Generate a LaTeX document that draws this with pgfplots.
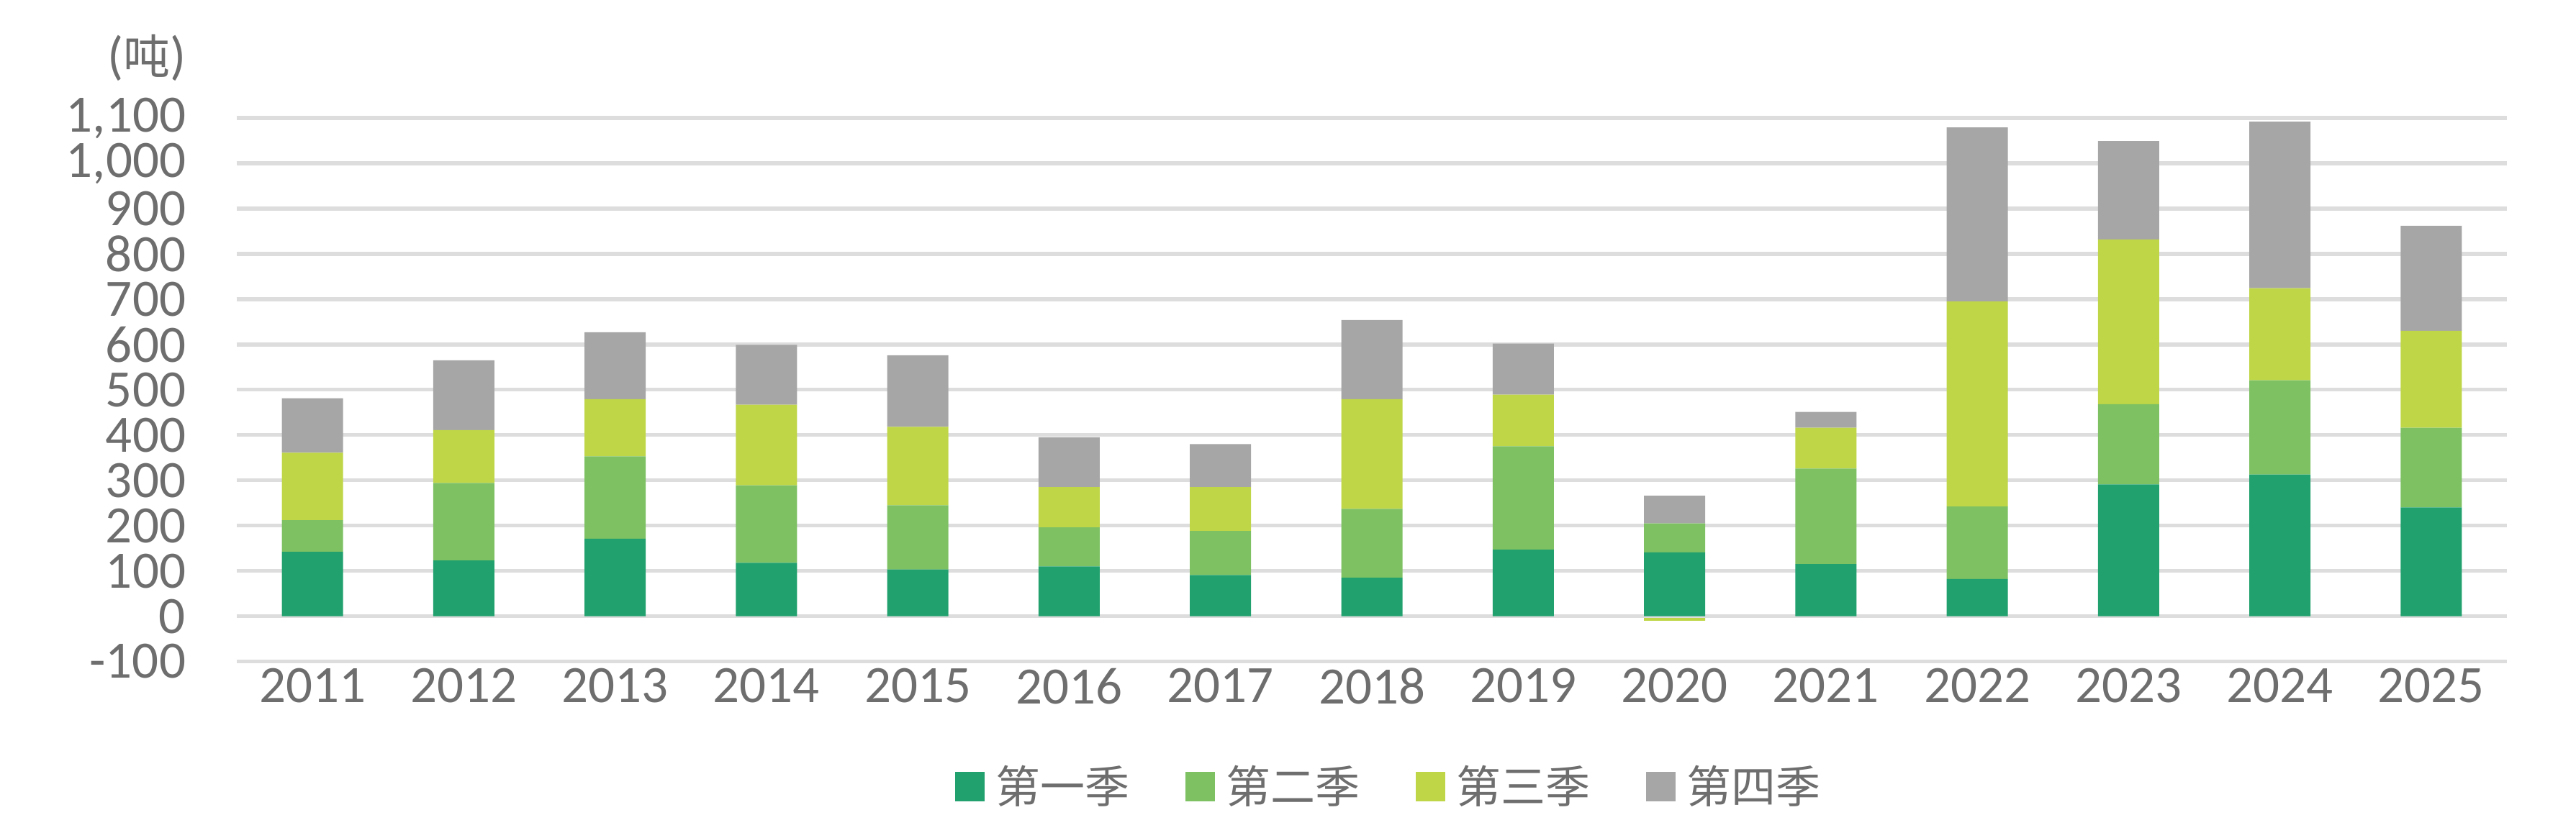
\documentclass[border=0pt]{standalone}
\usepackage{pgfplots}
\usepackage{pgfplotstable}
\pgfplotsset{compat=1.18}
\usepackage{fontspec}
\setmainfont{Carlito}
\newfontfamily\cjk{Noto Sans CJK SC}

\definecolor{qone}{HTML}{21A16E}
\definecolor{qtwo}{HTML}{7DC163}
\definecolor{qthree}{HTML}{BFD647}
\definecolor{qfour}{HTML}{A6A6A6}
\definecolor{gridc}{HTML}{DDDDDD}
\definecolor{txt}{HTML}{6E6E6E}

% quarterly values per year; q3 of 2020 is negative and drawn separately (q3n)
\pgfplotstableread{
x year q1  q2  q3  q4  q3n
0  2011 142 70  149 120 0
1  2012 123 171 117 154 0
2  2013 171 182 126 148 0
3  2014 118 171 178 132 0
4  2015 103 142 173 158 0
5  2016 110 86  89  110 0
6  2017 91  97  97  95  0
7  2018 85  152 242 175 0
8  2019 147 228 114 113 0
9  2020 141 64  0   61  -10
10 2021 115 211 90  35  0
11 2022 82  160 453 384 0
12 2023 291 177 364 217 0
13 2024 313 208 203 368 0
14 2025 240 176 214 232 0
}\data

\pgfplotsset{
  base/.style={
    scale only axis, width=630.8pt, height=151.1pt,
    at={(0,0)}, anchor=south west,
    xmin=-0.5, xmax=14.5, ymin=-100, ymax=1100,
  },
}

\begin{document}
\begin{tikzpicture}
\useasboundingbox (-65.8pt,-47.5pt) rectangle (650pt,183.9pt);

% negative part of the third quarter, stacked downwards from zero
\begin{axis}[base, hide axis, ybar, bar width=17pt, bar shift=0pt]
  \addplot[fill=qthree, draw=none] table[x=x, y=q3n] {\data};
\end{axis}

\begin{axis}[base,
  ybar stacked, bar width=17pt,
  axis line style={draw=none}, major tick length=0pt,
  ymajorgrids, grid style={gridc, line width=1.08pt},
  ytick={-100,0,...,1100},
  yticklabels={-100,0,100,200,300,400,500,600,700,800,900,{1,000},{1,100}},
  xtick={0,...,14},
  xticklabels={2011,2012,2013,2014,2015,2016,2017,2018,2019,2020,2021,2022,2023,2024,2025},
  ticklabel style={font=\fontsize{14.6}{17}\selectfont, text=txt},
  yticklabel style={anchor=east, inner sep=0pt, xshift=-14pt},
  xticklabel style={anchor=north, inner sep=0pt, yshift=-1.7pt},
  legend columns=4,
  legend image code/.code={\fill[#1] (0pt,-4.1pt) rectangle (8.2pt,4.1pt);},
  legend style={at={(0.507,-0.2305)}, anchor=center, draw=none, fill=none,
    font=\cjk\fontsize{12.4}{14}\selectfont, text=txt,
    nodes={inner sep=0pt},
    /tikz/every odd column/.append style={column sep=3pt},
    /tikz/every even column/.append style={column sep=15.6pt}},
]
  \addplot[fill=qone, draw=none] table[x=x, y=q1] {\data};
  \addplot[fill=qtwo, draw=none] table[x=x, y=q2] {\data};
  \addplot[fill=qthree, draw=none] table[x=x, y=q3] {\data};
  \addplot[fill=qfour, draw=none] table[x=x, y=q4] {\data};
  \legend{第一季,第二季,第三季,第四季}
\end{axis}

\node[anchor=east, text=txt, inner sep=0pt] at (-13.8pt,167.9pt)
  {\fontsize{14.6}{17}\selectfont(\cjk\fontsize{13}{15}\selectfont 吨\fontsize{14.6}{17}\selectfont\rmfamily)};
\end{tikzpicture}
\end{document}
